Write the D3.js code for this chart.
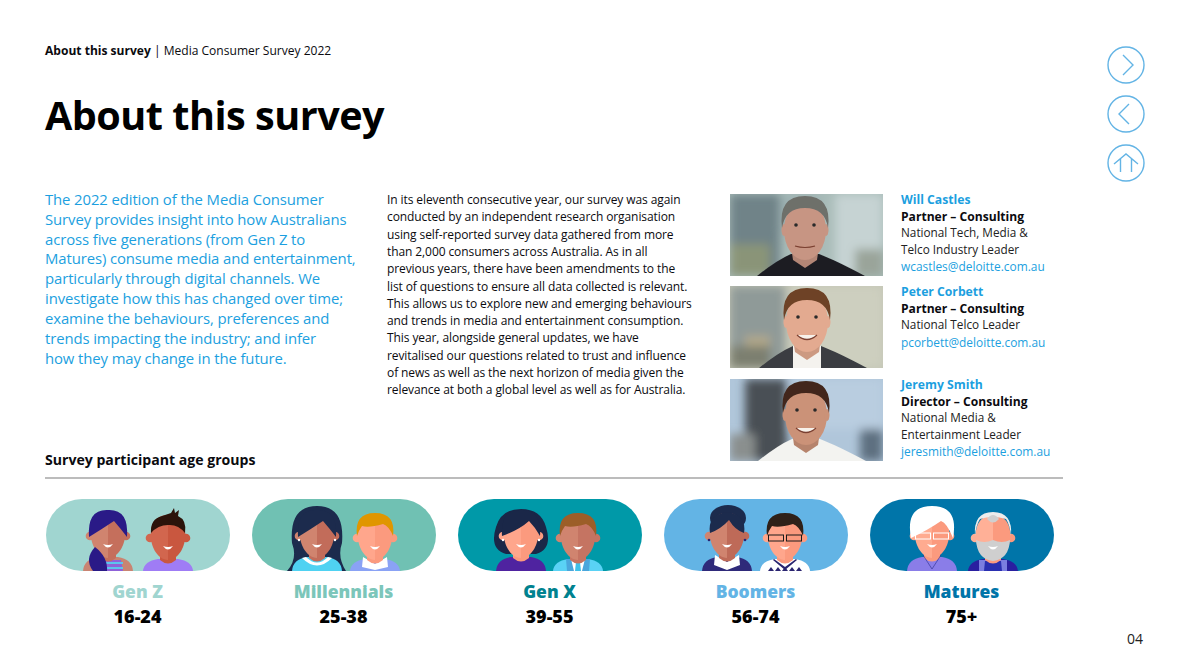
<!DOCTYPE html>
<html><head><meta charset="utf-8">
<script src="https://cdn.jsdelivr.net/npm/d3@7"></script>
<style>html,body{margin:0;background:#fff}svg{display:block;font-family:"Open Sans",sans-serif}</style>
</head><body><svg id="c" width="1190" height="669"></svg>
<script>
const generations=["Gen Z","Millennials","Gen X","Boomers","Matures"];
const ageRanges=["16-24","25-38","39-55","56-74","75+"];
const pillColors=["#a0d5d0","#70c1b3","#0099a8","#63b4e5","#0075a9"];
const labelColors=["#a0d5d0","#7cc6ba","#00828f","#63b4e5","#0075a9"];
const leftSkins=[["#d0846f","#c56f5c"],["#d0846f","#c26c5a"],["#ffa68c","#fb9a7e"],["#d0846f","#be6a58"],["#ffab90","#fb9a7e"]];
const rightSkins=[["#d2664e","#c9573f"],["#ffa68c","#fb9a7e"],["#d0846f","#c57462"],["#ffa68c","#fb9a7e"],["#ffb097","#fb9a7e"]];
const leftHair=["#2a1a87","#1c2b4d","#1a2748","#1c2b4d","#ffffff"];
const rightHair=["#2c130a","#e09600","#9c5e28","#2f2119","#ececec"];
const leftShirts=["#c98472","#4fd2f2","#4f23a0","#2f2a7a","#8a7de8"];
const rightShirts=["#9f7cf5","#8aa2f5","#5ad2f5","#ffffff","#2a1fa0"];

const headerBold="About this survey",headerRest=" | Media Consumer Survey 2022",title="About this survey",sectionTitle="Survey participant age groups",pageNo="04";
const introLines=["The 2022 edition of the Media Consumer","Survey provides insight into how Australians","across five generations (from Gen Z to","Matures) consume media and entertainment,","particularly through digital channels. We","investigate how this has changed over time;","examine the behaviours, preferences and","trends impacting the industry; and infer","how they may change in the future."];
const bodyLines=["In its eleventh consecutive year, our survey was again","conducted by an independent research organisation","using self-reported survey data gathered from more","than 2,000 consumers across Australia. As in all","previous years, there have been amendments to the","list of questions to ensure all data collected is relevant.","This allows us to explore new and emerging behaviours","and trends in media and entertainment consumption.","This year, alongside general updates, we have","revitalised our questions related to trust and influence","of news as well as the next horizon of media given the","relevance at both a global level as well as for Australia."];
const peopleNames=["Will Castles","Peter Corbett","Jeremy Smith"];
const peopleRoles=["Partner – Consulting","Partner – Consulting","Director – Consulting"];
const peopleTitles=[["National Tech, Media &","Telco Industry Leader"],["National Telco Leader"],["National Media &","Entertainment Leader"]];
const peopleEmails=["wcastles@deloitte.com.au","pcorbett@deloitte.com.au","jeresmith@deloitte.com.au"];
const photoTops=[194,286,379];
const photoBg=["#a9bcb9","#c4c6b6","#b0c6da"];
const photoSkin=["#c79583","#e3aa90","#cb9278"],photoHair=["#6e6f6b","#6e4226","#42281b"],photoCloth=["#1c1c22","#3a3d42","#f3f3f0"];

const svg=d3.select("#c");
const blue="#1c9fe0",ink="#0b0b0f";
const txt=(s,x,y,size,fill,weight,ls)=>svg.append("text").attr("x",x).attr("y",y).attr("font-size",size).attr("fill",fill).attr("font-weight",weight||400).attr("letter-spacing",ls||0).text(s);

// header
const h=txt("",45,55,12.05,ink);
h.append("tspan").attr("font-weight",700).text(headerBold);
h.append("tspan").text(headerRest);
txt(title,45,130,39.6,"#000",700,-0.5);

// intro and body copy
svg.selectAll(".intro").data(introLines).join("text").attr("class","intro").attr("x",45).attr("y",(d,i)=>204.7+i*19.9).attr("font-size",14.9).attr("letter-spacing",-0.11).attr("fill",blue).text(d=>d);
svg.selectAll(".body").data(bodyLines).join("text").attr("class","body").attr("x",387).attr("y",(d,i)=>204+i*17.3).attr("font-size",12).attr("letter-spacing",-0.09).attr("fill",ink).text(d=>d);

// people
const defs=svg.append("defs");
const blur=defs.append("filter").attr("id","blur").attr("x","-30%").attr("y","-30%").attr("width","160%").attr("height","160%");
blur.append("feGaussianBlur").attr("stdDeviation",5);
const soft=defs.append("filter").attr("id","soft");
soft.append("feGaussianBlur").attr("stdDeviation",0.7);
const backdrop=[
 [[0,0,50,82,"#6f8388"],[0,50,40,32,"#8a9478"],[50,0,40,40,"#9fb3b3"],[105,0,48,82,"#c6d3d3"],[125,55,28,27,"#9aa49a"]],
 [[0,0,55,82,"#8f9a98"],[15,50,25,25,"#b4a98a"],[60,0,93,82,"#cdcfbf"],[0,60,40,22,"#7c7f70"]],
 [[15,0,42,82,"#4a4f54"],[0,55,25,27,"#8a8f8e"],[130,50,23,32,"#5d6f80"],[60,0,93,50,"#b9cde0"]]
];
peopleNames.forEach((n,i)=>{
  const y=photoTops[i],x=730,w=153,hh=82;
  defs.append("clipPath").attr("id","pc"+i).append("rect").attr("x",x).attr("y",y).attr("width",w).attr("height",hh);
  const g=svg.append("g").attr("clip-path",`url(#pc${i})`);
  g.append("rect").attr("x",x).attr("y",y).attr("width",w).attr("height",hh).attr("fill",photoBg[i]);
  const bg=g.append("g").attr("filter","url(#blur)");
  backdrop[i].forEach(r=>bg.append("rect").attr("x",x+r[0]).attr("y",y+r[1]).attr("width",r[2]).attr("height",r[3]).attr("fill",r[4]));
  const f=g.append("g").attr("filter","url(#soft)");
  const cx=x+[75,77,76][i];
  f.append("path").attr("d",`M${cx-48} ${y+hh}Q${cx-28} ${y+66} ${cx-14} ${y+60}L${cx+14} ${y+60}Q${cx+30} ${y+66} ${cx+60} ${y+hh}Z`).attr("fill",photoCloth[i]);
  if(i===1)f.append("path").attr("d",`M${cx-14} ${y+hh}L${cx-14} ${y+60}L${cx+14} ${y+60}L${cx+14} ${y+hh}Z`).attr("fill","#f4f2ee");
  f.append("path").attr("d",`M${cx-14} ${y+52}L${cx+14} ${y+52}L${cx+12} ${y+66}L${cx} ${y+74}L${cx-12} ${y+66}Z`).attr("fill",d3.color(photoSkin[i]).darker(0.3));
  f.append("ellipse").attr("cx",cx).attr("cy",y+36).attr("rx",21).attr("ry",30).attr("fill",photoSkin[i]);
  f.selectAll("ellipse.ear").data([-21,21]).join("ellipse").attr("class","ear").attr("cx",d=>cx+d).attr("cy",y+36).attr("rx",2.5).attr("ry",6).attr("fill",photoSkin[i]);
  f.append("path").attr("d",`M${cx-23} ${y+34}Q${cx-27} ${y+2} ${cx} ${y+2}Q${cx+27} ${y+2} ${cx+23} ${y+34}Q${cx+20} ${y+14} ${cx} ${y+14}Q${cx-20} ${y+14} ${cx-23} ${y+34}Z`).attr("fill",photoHair[i]);
  f.append("path").attr("d",i===0?`M${cx-10} ${y+52}Q${cx} ${y+55} ${cx+10} ${y+52}`:`M${cx-10} ${y+49}Q${cx} ${y+58} ${cx+10} ${y+49}`).attr("fill",i===0?"none":"#f7f1ea").attr("stroke","#7a3f30").attr("stroke-width",1.2);
  f.selectAll("circle").data([-9,9]).join("circle").attr("cx",d=>cx+d).attr("cy",y+31).attr("r",1.8).attr("fill","#2a2a2a");
  const tx=901;let ly=y+10;
  txt(n,tx,ly,12.2,blue,700);
  ly+=17;txt(peopleRoles[i],tx,ly,12.1,ink,700);
  peopleTitles[i].forEach((t,j)=>{ly+=(j?17:16.3);txt(t,tx,ly,11.75,"#222");});
  ly+=(peopleTitles[i].length==1?17.6:16.6);txt(peopleEmails[i],tx,ly,11.9,blue);
});

// section
txt(sectionTitle,45,465,14.1,ink,700);
svg.append("line").attr("x1",45).attr("x2",1063).attr("y1",478).attr("y2",478).attr("stroke","#a6a6a6").attr("stroke-width",1.3);

// pills
const pillX=d3.scaleBand().domain(generations).range([46,1076]).paddingInner(0);
const pillW=184,pillH=72,pillY=499;
function person(g,cx,cy,skin,hair,shirt,kind,genIdx,side){
  const [s1,s2]=skin, bot=pillY+pillH;
  const P=(d,f)=>g.append("path").attr("d",d).attr("fill",f);
  // back hair
  if(kind==="longF")P(`M${cx-30} ${bot}Q${cx-19} ${cy+24} ${cx-25} ${cy+8}Q${cx-28} ${cy-29} ${cx} ${cy-29}Q${cx+28} ${cy-29} ${cx+25} ${cy+8}Q${cx+20} ${cy+22} ${cx+29} ${bot}Z`,hair);
  if(kind==="bob")P(`M${cx-15} ${cy+19}Q${cx-32} ${cy+14} ${cx-25} ${cy-8}Q${cx-20} ${cy-26} ${cx} ${cy-26}Q${cx+20} ${cy-26} ${cx+25} ${cy-8}Q${cx+32} ${cy+14} ${cx+15} ${cy+19}Z`,hair);
  if(kind==="bun")g.append("ellipse").attr("cx",cx+1).attr("cy",cy-17).attr("rx",18).attr("ry",13).attr("fill",hair);
  // shoulders
  P(`M${cx-25} ${bot}Q${cx-24} ${cy+24} ${cx-10} ${cy+22}L${cx+10} ${cy+22}Q${cx+24} ${cy+24} ${cx+25} ${bot}Z`,shirt);
  // garment details
  const key=genIdx+side;
  if(key==="0L"){P(`M${cx-13} ${bot}L${cx-11} ${cy+25}L${cx+13} ${cy+25}L${cx+15} ${bot}Z`,"#8f62d8");[0,1].forEach(k=>g.append("rect").attr("x",cx-13).attr("y",cy+27+k*5).attr("width",28).attr("height",2).attr("fill","#5cc4ee"));}
  if(key==="1L"){P(`M${cx-15} ${cy+23}Q${cx} ${cy+38} ${cx+15} ${cy+23}L${cx+11} ${cy+22}Q${cx} ${cy+33} ${cx-11} ${cy+22}Z`,"#fff");}
  if(key==="1R"||key==="3L"){P(`M${cx-12} ${cy+20}L${cx} ${cy+27}L${cx+12} ${cy+20}L${cx+13} ${cy+30}L${cx} ${bot-1}L${cx-13} ${cy+30}Z`,"#fff");}
  if(key==="2R"){P(`M${cx-7} ${cy+22}L${cx+7} ${cy+22}L${cx+6} ${bot}L${cx-6} ${bot}Z`,"#fff");P(`M${cx-2} ${cy+25}L${cx+2} ${cy+25}L${cx+3} ${bot}L${cx-3} ${bot}Z`,"#3fc0e8");P(`M${cx-12} ${cy+22}L${cx-7} ${cy+22}L${cx-4} ${bot}L${cx-11} ${cy+34}Z`,"#4aa6dc");P(`M${cx+12} ${cy+22}L${cx+7} ${cy+22}L${cx+4} ${bot}L${cx+11} ${cy+34}Z`,"#4aa6dc");}
  if(key==="3R"){P(`M${cx-11} ${cy+22}L${cx} ${cy+30}L${cx+11} ${cy+22}L${cx+12} ${cy+23}L${cx} ${cy+33}L${cx-12} ${cy+23}Z`,"#2a2470");d3.range(-2,3).forEach(k=>P(`M${cx+k*7-3} ${bot}L${cx+k*7} ${bot-4}L${cx+k*7+3} ${bot}Z`,"#2a2470"));}
  if(key==="4R"){P(`M${cx-14} ${bot}L${cx-14} ${cy+23}L${cx+14} ${cy+23}L${cx+14} ${bot}Z`,"#7b7ee0");P(`M${cx-9} ${bot}L${cx-8} ${cy+24}L${cx+8} ${cy+24}L${cx+9} ${bot}Z`,"#2a2fb0");}
  // neck
  P(`M${cx-8} ${cy+12}L${cx+8} ${cy+12}L${cx+8} ${cy+23}Q${cx} ${cy+30} ${cx-8} ${cy+23}Z`,s2);
  if(key==="4L")g.append("path").attr("d",`M${cx-9} ${cy+20}L${cx} ${bot-2}L${cx+9} ${cy+20}`).attr("fill","none").attr("stroke","#3a3a9a").attr("stroke-width",.7);
  // ears
  g.append("circle").attr("cx",cx-18).attr("cy",cy+1).attr("r",4.3).attr("fill",s1);
  g.append("circle").attr("cx",cx+18).attr("cy",cy+1).attr("r",4.3).attr("fill",s2);
  // face halves
  P(`M${cx} ${cy-22}C${cx-26} ${cy-22} ${cx-20} ${cy+22} ${cx} ${cy+23}Z`,s1);
  P(`M${cx} ${cy-22}C${cx+26} ${cy-22} ${cx+20} ${cy+22} ${cx} ${cy+23}Z`,s2);
  // hair
  if(kind==="spiky")P(`M${cx-17} ${cy-4}Q${cx-18} ${cy-18} ${cx-6} ${cy-21}L${cx+3} ${cy-24}L${cx+6} ${cy-29}L${cx+7} ${cy-24}L${cx+11} ${cy-27}L${cx+10} ${cy-21}Q${cx+19} ${cy-17} ${cx+17} ${cy-4}Q${cx+10} ${cy-13} ${cx} ${cy-12}Q${cx-10} ${cy-12} ${cx-17} ${cy-4}Z`,hair);
  else if(kind==="bun")P(`M${cx-17} ${cy-2}Q${cx-20} ${cy-20} ${cx} ${cy-23}Q${cx+20} ${cy-20} ${cx+17} ${cy-2}Q${cx+8} ${cy-5} ${cx+2} ${cy-15}Q${cx-6} ${cy-6} ${cx-17} ${cy-2}Z`,hair);
  else if(kind==="white")P(`M${cx-21} ${cy+3}Q${cx-27} ${cy-29} ${cx} ${cy-29}Q${cx+27} ${cy-29} ${cx+21} ${cy+3}Q${cx+15} ${cy-12} ${cx+9} ${cy-14}Q${cx-4} ${cy-5} ${cx-21} ${cy+3}Z`,hair);
  else if(kind==="bald"){
    P(`M${cx-18} ${cy-1}Q${cx-20} ${cy-25} ${cx} ${cy-25}Q${cx+20} ${cy-25} ${cx+18} ${cy-1}Q${cx+17} ${cy-12} ${cx+13} ${cy-18}Q${cx} ${cy-22} ${cx-13} ${cy-18}Q${cx-17} ${cy-12} ${cx-18} ${cy-1}Z`,hair);
    P(`M${cx-6} ${cy-18}Q${cx} ${cy-26} ${cx+6} ${cy-18}Q${cx} ${cy-11} ${cx-6} ${cy-18}Z`,"#cfcfcf");
    P(`M${cx-17} ${cy+3}Q${cx-9} ${cy+7} ${cx} ${cy+3}Q${cx+9} ${cy+7} ${cx+17} ${cy+3}Q${cx+16} ${cy+22} ${cx} ${cy+24}Q${cx-16} ${cy+22} ${cx-17} ${cy+3}Z`,"#cfcfcf");
  }
  else if(kind==="short")P(`M${cx-18} ${cy-1}Q${cx-21} ${cy-24} ${cx} ${cy-24}Q${cx+21} ${cy-24} ${cx+18} ${cy-1}Q${cx+14} ${cy-11} ${cx+8} ${cy-13}Q${cx-6} ${cy-9} ${cx-13} ${cy-11}Q${cx-16} ${cy-7} ${cx-18} ${cy-1}Z`,hair);
  else if(kind==="bob")P(`M${cx-19} ${cy+1}Q${cx-21} ${cy-26} ${cx} ${cy-25}Q${cx+21} ${cy-26} ${cx+19} ${cy+1}Q${cx+14} ${cy-8} ${cx+8} ${cy-14}Q${cx-2} ${cy-5} ${cx-19} ${cy+1}Z`,hair);
  else P(`M${cx-19} ${cy+2}Q${cx-21} ${cy-26} ${cx} ${cy-25}Q${cx+21} ${cy-26} ${cx+19} ${cy+2}Q${cx+13} ${cy-6} ${cx+6} ${cy-14}Q${cx-6} ${cy-6} ${cx-19} ${cy+2}Z`,hair);
  // ponytail
  if(kind==="pony")P(`M${cx-13} ${cy+12}Q${cx-24} ${cy+24} ${cx-15} ${bot}L${cx-1} ${bot}Q${cx} ${cy+22} ${cx-13} ${cy+12}Z`,hair);
  // earrings
  if(key==="1L"||key==="2L")[-18,18].forEach(d=>g.append("circle").attr("cx",cx+d).attr("cy",cy+5).attr("r",1.2).attr("fill","#fff"));
  if(key==="3L")[-18,18].forEach(d=>g.append("circle").attr("cx",cx+d).attr("cy",cy+5).attr("r",1.3).attr("fill","#2a2470"));
  // glasses
  if(key==="3R"||key==="4L"){
    const col=key==="4L"?"#ffffff":"#1b1b1b";
    [-9,9].forEach(d=>g.append("rect").attr("x",cx+d-7.5).attr("y",cy-2).attr("width",15).attr("height",6).attr("fill","none").attr("stroke",col).attr("stroke-width",1));
  }
  // smile
  P(`M${cx-5} ${cy+9}Q${cx} ${cy+11} ${cx+5} ${cy+9}Q${cx} ${cy+16} ${cx-5} ${cy+9}Z`,"#fff");
}
const leftKinds=["pony","longF","bob","bun","white"],rightKinds=["spiky","short","short","short","bald"];
const leftOffset=[62,65,63,63,62],rightOffset=[122,123,120,121,123];
const pills=svg.selectAll(".pill").data(generations).join("g").attr("class","pill");
pills.each(function(d,i){
  const x=pillX(d),g=d3.select(this);
  defs.append("clipPath").attr("id","cl"+i).append("rect").attr("x",x).attr("y",pillY).attr("width",pillW).attr("height",pillH).attr("rx",36);
  const inner=g.append("g").attr("clip-path",`url(#cl${i})`);
  inner.append("rect").attr("x",x).attr("y",pillY).attr("width",pillW).attr("height",pillH).attr("fill",pillColors[i]);
  person(inner,x+leftOffset[i],pillY+36,leftSkins[i],leftHair[i],leftShirts[i],leftKinds[i],i,"L");
  person(inner,x+rightOffset[i],pillY+38,rightSkins[i],rightHair[i],rightShirts[i],rightKinds[i],i,"R");
  g.append("text").attr("x",x+pillW/2-.5).attr("y",598).attr("text-anchor","middle").attr("font-size",17.5).attr("font-weight",800).attr("fill",labelColors[i]).text(d);
  g.append("text").attr("x",x+pillW/2-.5).attr("y",623).attr("text-anchor","middle").attr("font-size",18).attr("font-weight",800).attr("fill","#000").text(ageRanges[i]);
});

// nav
const navY=[65,114,163],navColor="#63b4e5";
const navIcons=["M-3 -10L7 0L-3 10","M3 -10L-7 0L3 10","M-12 1L0 -9L12 1M-5.5 -4V9M5.5 -4V9"];
const nav=svg.selectAll(".nav").data(navY).join("g").attr("class","nav").attr("transform",d=>`translate(1126,${d})`);
nav.append("circle").attr("r",18).attr("fill","none").attr("stroke",navColor).attr("stroke-width",1.4);
nav.append("path").attr("d",(d,i)=>navIcons[i]).attr("fill","none").attr("stroke",navColor).attr("stroke-width",1.4);

txt(pageNo,1127,644,14,"#222");
</script></body></html>
